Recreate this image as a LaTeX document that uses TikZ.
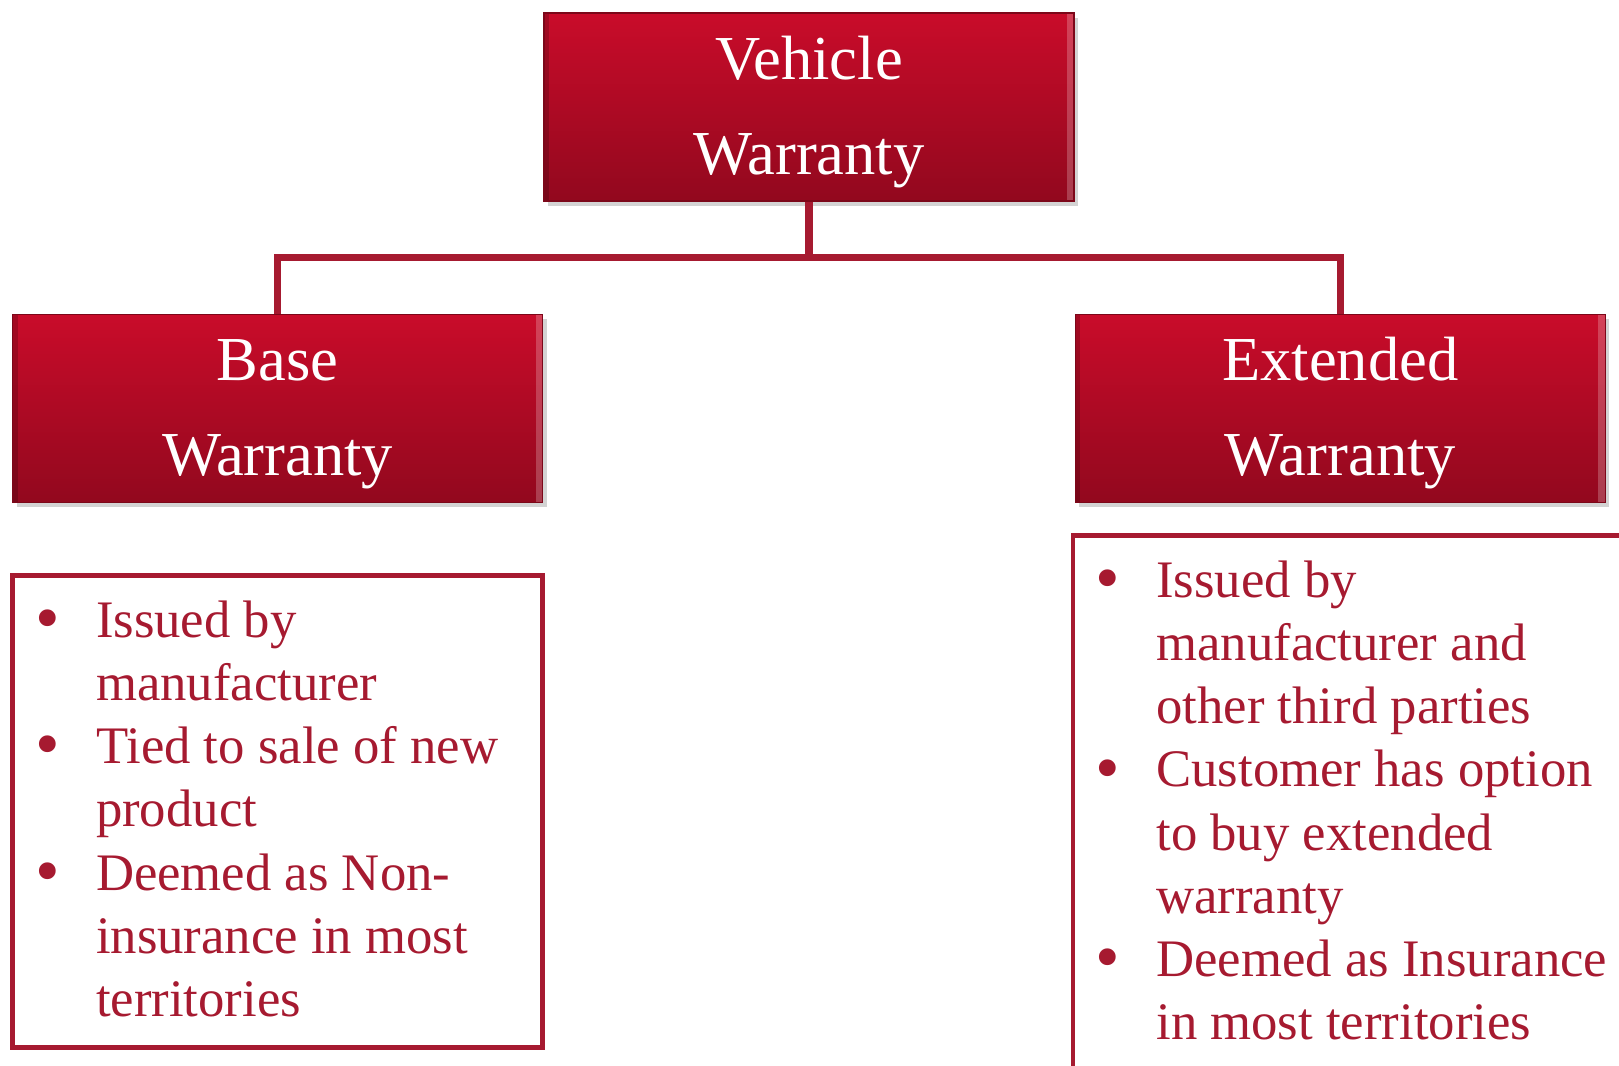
\documentclass[tikz,border=0pt]{standalone}
\usepackage{fontspec}
\setmainfont{Liberation Serif}
\usetikzlibrary{positioning,shadows}

\definecolor{wred}{RGB}{201,12,42}
\definecolor{wdark}{RGB}{146,8,30}
\definecolor{wline}{RGB}{166,26,48}

% larger bullet, as in the slide
\newcommand{\dotitem}{\raisebox{-1.2pt}{\fontsize{20}{18}\selectfont\textbullet}}

\tikzset{
  head/.style={rectangle, minimum width=5.30cm, minimum height=1.88cm, inner sep=0pt,
    top color=wred, bottom color=wdark, draw=wdark!85!black, line width=0.4pt,
    drop shadow={shadow xshift=0.04cm, shadow yshift=-0.05cm, opacity=0.35},
    path picture={
      \fill[white, opacity=0.22] (path picture bounding box.north east) rectangle ++(-0.07,-1.88);
      \fill[black, opacity=0.18] (path picture bounding box.north west) rectangle ++(0.05,-1.88);
    },
    text=white, align=center, font=\fontsize{17.8}{27}\selectfont},
  listbox/.style={rectangle, draw=wline, line width=1.3pt, inner sep=0pt},
  listtext/.style={inner sep=0pt, anchor=north west, text=wline,
    font=\fontsize{15}{18}\selectfont},
  link/.style={draw=wline, line width=2pt}
}

\begin{document}
\begin{tikzpicture}
  \useasboundingbox (0,0) rectangle (16.19,-10.66);
  \clip (0,0) rectangle (16.19,-10.66);

  % the three headings
  \node[head] (vw) at (8.09,-1.07) {\rule{0pt}{15pt}Vehicle\\Warranty};
  \node[head,below left=1.12cm and 0cm of vw.south west,anchor=north east] (bw) {\rule{0pt}{15pt}Base\\Warranty};
  \node[head,below right=1.12cm and 0cm of vw.south east,anchor=north west] (ew) {\rule{0pt}{15pt}Extended\\Warranty};

  \draw[link] (vw.south) -- ++(0,-0.56) coordinate (split) -| (bw.north);
  \draw[link] (split) -| (ew.north);

  % bullet lists under the headings
  \node[listbox,minimum width=5.30cm,minimum height=4.72cm,below=0.70cm of bw] (basebox) {};
  \node[listtext] (basetxt) at ([xshift=0.24cm,yshift=-0.19cm]basebox.north west) {%
    \begin{tabular}{@{}p{0.61cm}@{}l@{}}
      \dotitem & Issued by\\
               & manufacturer\\
      \dotitem & Tied to sale of new\\
               & product\\
      \dotitem & Deemed as Non-\\
               & insurance in most\\
               & territories
    \end{tabular}};

  \node[listbox,minimum width=5.80cm,minimum height=5.80cm,
        below right=0.30cm and -0.04cm of ew.south west,anchor=north west] (extbox) {};
  \node[listtext] (exttxt) at ([xshift=0.24cm,yshift=-0.19cm]extbox.north west) {%
    \begin{tabular}{@{}p{0.61cm}@{}l@{}}
      \dotitem & Issued by\\
               & manufacturer and\\
               & other third parties\\
      \dotitem & Customer has option\\
               & to buy extended\\
               & warranty\\
      \dotitem & Deemed as Insurance\\
               & in most territories
    \end{tabular}};
\end{tikzpicture}
\end{document}
